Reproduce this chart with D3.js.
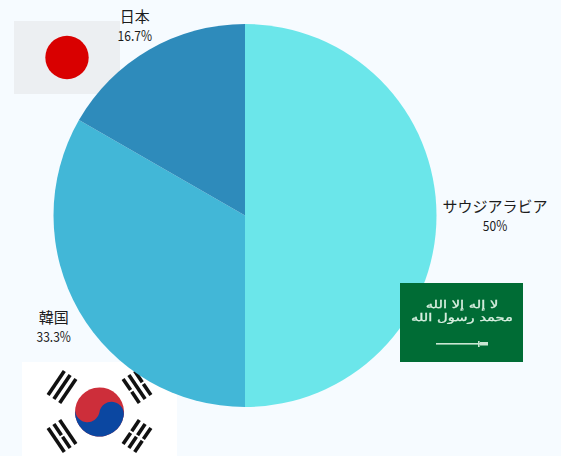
<!DOCTYPE html>
<html>
<head>
<meta charset="utf-8">
<script src="https://cdn.jsdelivr.net/npm/d3@7"></script>
<style>
html, body { margin: 0; padding: 0; background: #f6fbff; overflow: hidden; }
text { font-family: "Noto Sans CJK JP", sans-serif; fill: #1c1c1c; }
</style>
</head>
<body>
<div id="chart"></div>
<script>
var countries = ['サウジアラビア', '韓国', '日本'];
var shares = [50, 33.3, 16.7];
var shareLabels = ['50%', '33.3%', '16.7%'];
var sliceColors = ['#6be6ea', '#42b7d7', '#2e8bbb'];

var width = 561, height = 456;
var cx = 245, cy = 215.5, radius = 191.5;
var labelRadius = [250, 221, 220];

var svg = d3.select('#chart').append('svg')
    .attr('width', width).attr('height', height)
    .style('display', 'block');

var defs = svg.append('defs');
defs.append('filter').attr('id', 'soft')
    .append('feGaussianBlur').attr('stdDeviation', 0.35);

// flags that sit under the pie
function drawJapan(g) {
    g.append('rect').attr('x', 14).attr('y', 21).attr('width', 106).attr('height', 73).attr('fill', '#eceff2');
    g.append('circle').attr('cx', 67).attr('cy', 57.5).attr('r', 21.7).attr('fill', '#d90000');
}

function drawTrigram(g, x, y, angle, breaks) {
    var t = g.append('g').attr('transform', 'translate(' + x + ',' + y + ') rotate(' + angle + ')');
    [-7, 0, 7].forEach(function(dy, i) {
        if (breaks[i]) {
            t.append('rect').attr('x', -14.5).attr('y', dy - 1.8).attr('width', 13.5).attr('height', 3.6).attr('fill', '#111');
            t.append('rect').attr('x', 1).attr('y', dy - 1.8).attr('width', 13.5).attr('height', 3.6).attr('fill', '#111');
        } else {
            t.append('rect').attr('x', -14.5).attr('y', dy - 1.8).attr('width', 29).attr('height', 3.6).attr('fill', '#111');
        }
    });
}

function drawKorea(g) {
    var x = 99.5, y = 412, r = 24.5;
    g.append('rect').attr('x', 22).attr('y', 362).attr('width', 155).attr('height', 94).attr('fill', '#ffffff');
    var t = g.append('g').attr('transform', 'translate(' + x + ',' + y + ') rotate(10)');
    t.append('circle').attr('r', r).attr('fill', '#cd2e3a');
    t.append('path').attr('fill', '#0b47a1')
        .attr('d', 'M' + (-r) + ',0 A' + r + ',' + r + ' 0 0 0 ' + r + ',0 A' + (r / 2) + ',' + (r / 2) + ' 0 0 0 0,0 A' + (r / 2) + ',' + (r / 2) + ' 0 0 1 ' + (-r) + ',0 Z');
    drawTrigram(g, 62, 387, -56, [0, 0, 0]);
    drawTrigram(g, 137, 387, 56, [1, 0, 1]);
    drawTrigram(g, 62, 436, 56, [0, 1, 0]);
    drawTrigram(g, 137, 436, -56, [1, 1, 1]);
}

function drawSaudi(g) {
    g.append('rect').attr('x', 400).attr('y', 283).attr('width', 123).attr('height', 79).attr('fill', '#006c35');
    var script = g.append('g').attr('text-anchor', 'middle').attr('filter', 'url(#soft)')
        .attr('transform', 'translate(462,0) scale(1.4,1)');
    [['لا إله إلا الله', 308], ['محمد رسول الله', 321]].forEach(function(line) {
        script.append('text').attr('y', line[1])
            .style('font-family', '"DejaVu Sans"').style('font-size', '10.5px')
            .style('fill', '#d8efe0').style('stroke', '#d8efe0').style('stroke-width', 0.3)
            .text(line[0]);
    });
    g.append('rect').attr('x', 436).attr('y', 343).attr('width', 46).attr('height', 1.6).attr('fill', '#c9e6d2');
    g.append('rect').attr('x', 478).attr('y', 341).attr('width', 1.6).attr('height', 6).attr('fill', '#c9e6d2');
    g.append('rect').attr('x', 480).attr('y', 342).attr('width', 8).attr('height', 3.5).attr('fill', '#c9e6d2');
}

drawJapan(svg.append('g'));
drawKorea(svg.append('g'));

var pie = d3.pie().sort(null).value(function(d) { return d; });
var arc = d3.arc().innerRadius(0).outerRadius(radius);
var arcs = pie(shares);

var pieGroup = svg.append('g').attr('transform', 'translate(' + cx + ',' + cy + ')');
pieGroup.selectAll('path').data(arcs).enter().append('path')
    .attr('d', arc)
    .attr('fill', function(d, i) { return sliceColors[i]; });

drawSaudi(svg.append('g'));

var labels = svg.append('g').selectAll('g').data(arcs).enter().append('g')
    .attr('transform', function(d, i) {
        var c = d3.arc().innerRadius(labelRadius[i]).outerRadius(labelRadius[i]).centroid(d);
        return 'translate(' + (cx + c[0]) + ',' + (cy + c[1]) + ')';
    })
    .attr('text-anchor', 'middle');

labels.append('text').attr('y', -3.5)
    .style('font-size', '15px')
    .text(function(d, i) { return countries[i]; });

labels.append('text').attr('y', 15.5)
    .style('font-size', '14px')
    .attr('transform', 'scale(0.86,1)')
    .text(function(d, i) { return shareLabels[i]; });
</script>
</body>
</html>
